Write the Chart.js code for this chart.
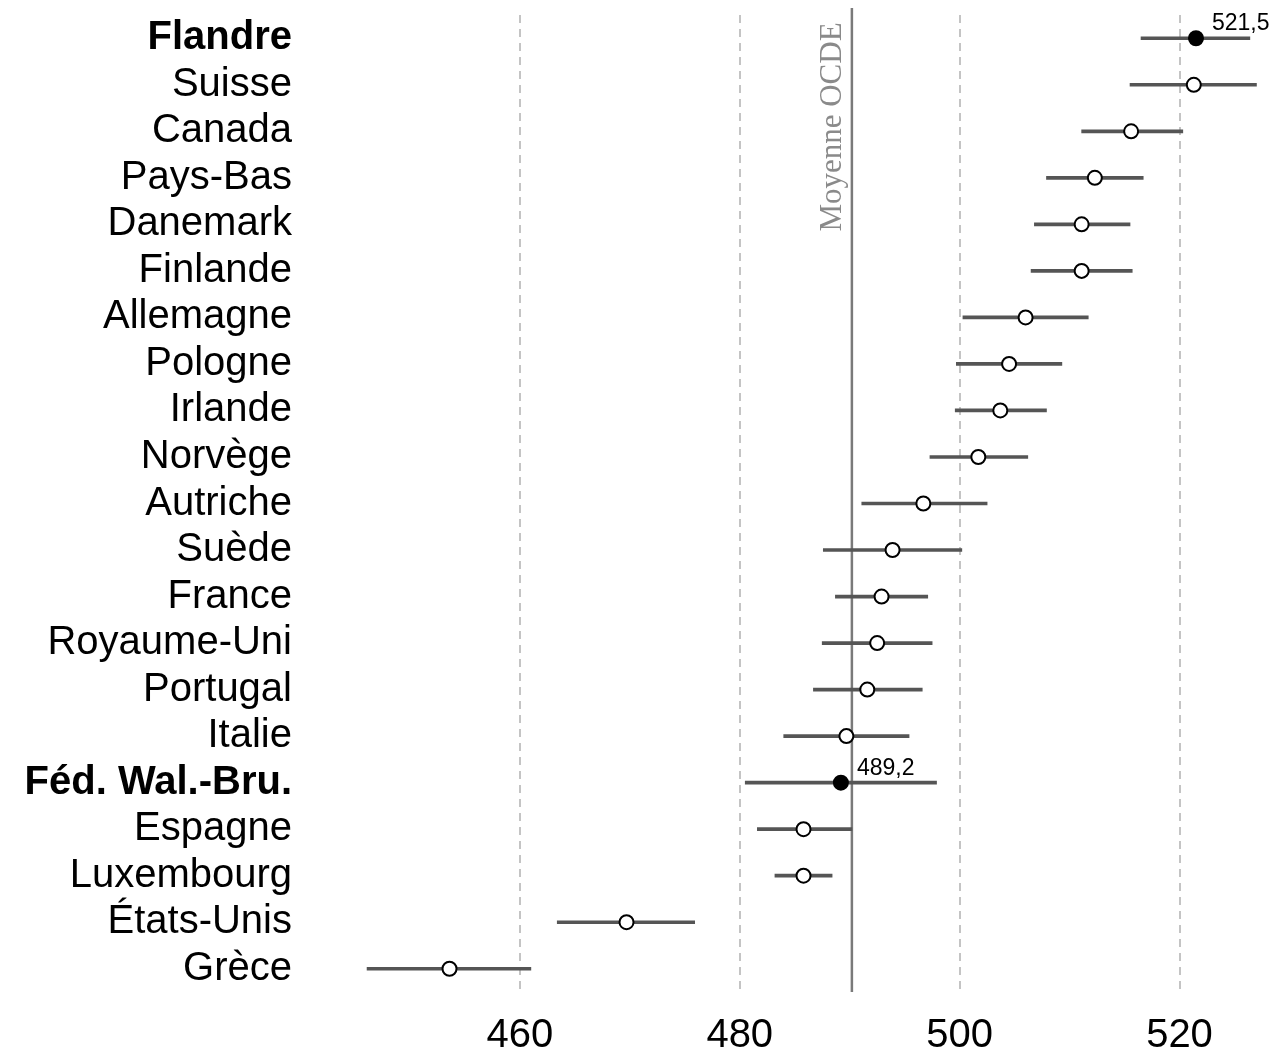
<!DOCTYPE html>
<html>
<head>
<meta charset="utf-8">
<script src="https://cdn.jsdelivr.net/npm/chart.js@4"></script>
<style>
  body { margin: 0; background: #fff; }
  canvas { display: block; }
</style>
</head>
<body>
<canvas id="chart" width="1277" height="1051"></canvas>
<script>
const countries = ['Flandre', 'Suisse', 'Canada', 'Pays-Bas', 'Danemark', 'Finlande', 'Allemagne', 'Pologne',
    'Irlande', 'Norvège', 'Autriche', 'Suède', 'France', 'Royaume-Uni', 'Portugal', 'Italie',
    'Féd. Wal.-Bru.', 'Espagne', 'Luxembourg', 'États-Unis', 'Grèce'];
const scores = [521.5, 521.3, 515.6, 512.3, 511.1, 511.1, 506.0, 504.5, 503.7, 501.7, 496.7,
    493.9, 492.9, 492.5, 491.6, 489.7, 489.2, 485.8, 485.8, 469.7, 453.6];
const lower = [516.5, 515.5, 511.1, 507.9, 506.8, 506.5, 500.3, 499.7, 499.6, 497.3, 491.1,
    487.6, 488.7, 487.5, 486.7, 484.0, 480.5, 481.6, 483.2, 463.4, 446.1];
const upper = [526.4, 527.0, 520.3, 516.7, 515.5, 515.7, 511.7, 509.3, 507.9, 506.2, 502.5,
    500.2, 497.1, 497.5, 496.6, 495.4, 497.9, 490.2, 488.4, 475.9, 461.0];
const highlighted = ['Flandre', 'Féd. Wal.-Bru.'];
const xTicks = [460, 480, 500, 520];
const ocdeMean = 490.2;
const ocdeLabel = 'Moyenne OCDE';

const SANS = "'Liberation Sans', Arial, sans-serif";
const SERIF = "'Liberation Serif', 'Times New Roman', serif";

const isHi = i => highlighted.includes(countries[i]);

// vertical OECD line + its label, and the value tags next to the filled points
const annotations = {
    id: 'annotations',
    beforeDatasetsDraw(chart) {
        const { ctx, chartArea, scales } = chart;
        const x = scales.x.getPixelForValue(ocdeMean);
        ctx.save();
        ctx.strokeStyle = '#7a7a7a';
        ctx.lineWidth = 2.5;
        ctx.beginPath();
        ctx.moveTo(x, chartArea.top - 7);
        ctx.lineTo(x, chartArea.bottom);
        ctx.stroke();

        ctx.translate(x - 11, chartArea.top + 112);
        ctx.rotate(-Math.PI / 2);
        ctx.fillStyle = '#8a8a8a';
        ctx.font = '31px ' + SERIF;
        ctx.textAlign = 'center';
        ctx.textBaseline = 'alphabetic';
        ctx.fillText(ocdeLabel, 0, 0);
        ctx.restore();
    },
    afterDatasetsDraw(chart) {
        const { ctx } = chart;
        const meta = chart.getDatasetMeta(1);
        ctx.save();
        ctx.fillStyle = '#000';
        ctx.font = '23px ' + SANS;
        ctx.textAlign = 'left';
        ctx.textBaseline = 'alphabetic';
        meta.data.forEach((pt, i) => {
            if (!isHi(i)) return;
            ctx.fillText(scores[i].toFixed(1).replace('.', ','), pt.x + 16, pt.y - 8);
        });
        ctx.restore();
    }
};

new Chart(document.getElementById('chart'), {
    type: 'bar',
    data: {
        labels: countries,
        datasets: [
            {
                label: 'Intervalle',
                data: countries.map((_, i) => [lower[i], upper[i]]),
                backgroundColor: '#555555',
                barThickness: 3,
                borderWidth: 0,
                order: 2
            },
            {
                type: 'line',
                label: 'Score',
                data: scores,
                showLine: false,
                pointRadius: 7,
                pointBorderWidth: 2,
                pointBorderColor: '#000',
                pointBackgroundColor: countries.map((_, i) => isHi(i) ? '#000' : '#fff'),
                order: 1
            }
        ]
    },
    options: {
        indexAxis: 'y',
        responsive: false,
        animation: false,
        layout: { padding: { top: 15, right: 5, left: 0, bottom: 0 } },
        plugins: {
            legend: { display: false },
            tooltip: { enabled: false }
        },
        scales: {
            x: {
                type: 'linear',
                min: 440,
                max: 528.05,
                afterBuildTicks: scale => { scale.ticks = xTicks.map(v => ({ value: v })); },
                afterFit: scale => {
                    scale.height = 59;
                    scale.paddingLeft = 0;
                    scale.paddingRight = 0;
                },
                border: { display: false, dash: [8, 6] },
                grid: {
                    color: '#c4c4c4',
                    lineWidth: 2,
                    drawTicks: false
                },
                ticks: {
                    padding: 20,
                    color: '#000',
                    font: { family: SANS, size: 40 }
                }
            },
            y: {
                afterFit: scale => {
                    scale.width = 300;
                    scale.paddingTop = 0;
                    scale.paddingBottom = 0;
                },
                border: { display: false },
                grid: { display: false, drawTicks: false },
                ticks: {
                    autoSkip: false,
                    padding: 8,
                    color: '#000',
                    font: c => ({ family: SANS, size: 40, weight: isHi(c.index) ? 'bold' : 'normal' })
                }
            }
        }
    },
    plugins: [annotations]
});
</script>
</body>
</html>
